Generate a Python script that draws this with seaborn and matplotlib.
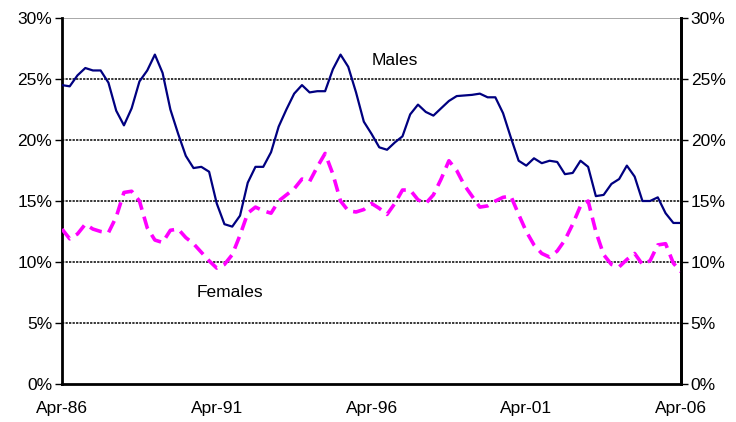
import numpy as np
import pandas as pd
import matplotlib
matplotlib.use('Agg')
import matplotlib.pyplot as plt
import seaborn as sns

# quarterly readings, Apr-86 .. Apr-06 (percent)
males = [24.5, 24.4, 25.3, 25.9, 25.7, 25.7, 24.7, 22.4, 21.2, 22.6,
         24.8, 25.7, 27.0, 25.5, 22.5, 20.5, 18.7, 17.7, 17.8, 17.4,
         14.8, 13.1, 12.9, 13.8, 16.5, 17.8, 17.8, 19.0, 21.1, 22.5,
         23.8, 24.5, 23.9, 24.0, 24.0, 25.8, 27.0, 26.0, 23.9, 21.5,
         20.5, 19.4, 19.2, 19.8, 20.3, 22.1, 22.9, 22.3, 22.0, 22.6,
         23.2, 23.6, 23.65, 23.7, 23.8, 23.5, 23.5, 22.2, 20.2, 18.3,
         17.9, 18.5, 18.1, 18.3, 18.2, 17.2, 17.3, 18.3, 17.8, 15.4,
         15.5, 16.4, 16.8, 17.9, 17.0, 15.0, 15.0, 15.3, 14.0, 13.2,
         13.2]
females = [12.7, 11.9, 12.3, 13.1, 12.7, 12.5, 12.4, 13.7, 15.7, 15.8,
           15.0, 12.8, 11.8, 11.6, 12.6, 12.7, 12.0, 11.5, 10.8, 10.1,
           9.5, 9.8, 10.6, 12.2, 14.0, 14.5, 14.2, 14.0, 15.0, 15.5,
           16.0, 16.8, 16.6, 17.8, 18.9, 17.2, 15.0, 14.2, 14.1, 14.3,
           14.8, 14.4, 13.9, 14.8, 15.9, 15.9, 15.1, 14.8, 15.5, 16.8,
           18.3, 17.5, 16.3, 15.4, 14.5, 14.6, 15.0, 15.3, 15.4, 13.9,
           12.5, 11.4, 10.7, 10.4, 10.9, 11.8, 13.1, 14.6, 15.0, 12.5,
           10.6, 9.8, 9.6, 10.2, 10.7, 9.8, 10.1, 11.4, 11.5, 9.9,
           9.2]
dates = pd.date_range('1986-04-01', periods=len(males), freq='3MS')
yticks = [0, 5, 10, 15, 20, 25, 30]

df = pd.DataFrame({'date': dates, 'Males': males, 'Females': females})

sns.set_style('white')
plt.rcParams['font.family'] = ['Liberation Sans', 'DejaVu Sans']
plt.rcParams['text.color'] = 'black'
FS = 12.5

fig = plt.figure(figsize=(7.36, 4.22), dpi=100)
ax = fig.add_axes([62 / 736, 1 - 384 / 422, (681 - 62) / 736, (384 - 18) / 422])

# dotted gridlines, grey top edge
for y in yticks[1:-1]:
    ax.axhline(y, color='black', lw=1.1, ls=(0, (1.5, 0.8)), zorder=1)
ax.axhline(30, color='#999999', lw=1.2, zorder=1)

sns.lineplot(data=df, x='date', y='Males', ax=ax, color='#000080', lw=1.6, zorder=3)
sns.lineplot(data=df, x='date', y='Females', ax=ax, color='#FF00FF', lw=2.6,
             zorder=3)
ax.lines[-1].set_dashes((3.5, 2.0))

ax.set_xlim(dates[0], dates[-1])
ax.set_ylim(0, 30)
ax.set_yticks(yticks)
ax.set_yticklabels([f'{v}%' for v in yticks], fontsize=FS)
years = pd.date_range('1986-04-01', '2006-04-01', freq='12MS')
ax.set_xticks(years)
ax.set_xticklabels([d.strftime('%b-%y') if i % 5 == 0 else '' for i, d in enumerate(years)],
                   fontsize=FS)
ax.set_xlabel('')
ax.set_ylabel('')
ax.tick_params(axis='x', direction='inout', length=8, width=1, pad=8, colors='black')
ax.tick_params(axis='y', direction='out', length=5, width=1, pad=2, colors='black')

for side in ['left', 'right', 'bottom']:
    ax.spines[side].set_color('black')
    ax.spines[side].set_linewidth(2)
ax.spines['top'].set_visible(False)

# duplicate scale on the right
ax2 = ax.twinx()
ax2.set_ylim(0, 30)
ax2.set_yticks(yticks)
ax2.set_yticklabels([f'{v}%' for v in yticks], fontsize=FS)
ax2.tick_params(axis='y', direction='out', length=5, width=1, pad=2, colors='black')
for s in ax2.spines.values():
    s.set_visible(False)
ax2.spines['right'].set_visible(True)
ax2.spines['right'].set_color('black')
ax2.spines['right'].set_linewidth(2)

ax.text(pd.Timestamp('1997-01-01'), 26.5, 'Males', fontsize=FS, ha='center', va='center')
ax.text(pd.Timestamp('1991-09-01'), 7.5, 'Females', fontsize=FS, ha='center', va='center')

fig.savefig('out.png', dpi=100)
